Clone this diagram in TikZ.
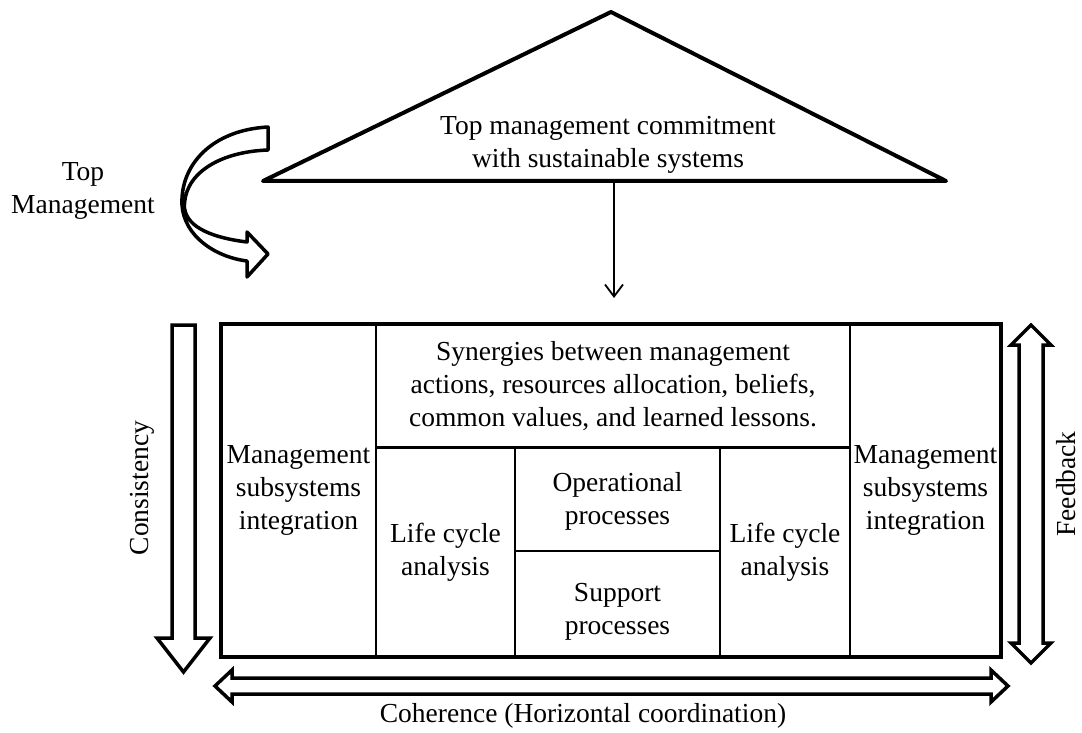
\documentclass[tikz,border=0pt]{standalone}
\usepackage{fontspec}
\setmainfont{Liberation Serif}
\usetikzlibrary{arrows.meta}
\begin{document}
\begin{tikzpicture}[x=1pt,y=-1pt,
  txt/.style={font=\fontsize{27.5}{33}\selectfont, align=center, inner sep=0pt},
  cell/.style={txt, draw, line width=2.5pt},
  hollow/.style={draw, line width=3.5pt, line join=miter, fill=white},
  thin/.style={line width=1.8pt, -{Straight Barb[length=12pt,width=18pt]}}]
\useasboundingbox (0,0) rectangle (1082,733);

% roof: top management commitment
\coordinate (apex) at (611,12);
\coordinate (roofR) at (946,181);
\coordinate (roofL) at (263,181);
\draw[line width=4pt, line join=round] (apex) -- (roofR) -- (roofL) -- cycle;
\node[txt] (roof) at (608,145) {Top management commitment\\with sustainable systems};

% curved "Top Management" arrow
\node[txt] (topm) at (83,191) {Top\\Management};
\draw[hollow, line join=round]
  (268,127) .. controls (212,130) and (180,165) .. (182,205)
  .. controls (184,236) and (215,257) .. (247,261)
  -- (247,277) -- (268,254) -- (247,232) -- (247,242)
  .. controls (214,238) and (187,228) .. (184.5,208)
  .. controls (183,176) and (216,152) .. (268,150) -- cycle;

% cells of the house body
\node[cell, minimum width=155pt, minimum height=333pt] (mgl) at (298.5,490.5)
  {Management\\subsystems\\integration};
\node[cell, minimum width=474pt, minimum height=123pt] (syn) at (613,386.5)
  {Synergies between management\\actions, resources allocation, beliefs,\\common values, and learned lessons.};
\node[cell, minimum width=139pt, minimum height=210pt] (lcl) at (445.5,552)
  {Life cycle\\analysis};
\node[cell, minimum width=205pt, minimum height=104pt] (ops) at (617.5,499) {};
\node[txt] (opst) at (617.5,501) {Operational\\processes};
\node[cell, minimum width=205pt, minimum height=106pt] (sup) at (617.5,604) {};
\node[txt] (supt) at (617.5,612) {Support\\processes};
\node[cell, minimum width=130pt, minimum height=210pt] (lcr) at (785,552)
  {Life cycle\\analysis};
\node[cell, minimum width=151pt, minimum height=333pt] (mgr) at (925.5,490.5)
  {Management\\subsystems\\integration};
\node[draw, line width=4pt, minimum width=780pt, minimum height=333pt, inner sep=0pt]
  (frame) at (611,490.5) {};

% commitment flows down into the body
\coordinate (flowtop) at (614,181);
\coordinate (flowend) at (614,298);
\draw[thin] (flowtop) -- (flowend);

% consistency (downward hollow arrow)
\draw[hollow] (172,325) -- (195,325) -- (195,638) -- (210,638) -- (183.5,672)
  -- (157,638) -- (172,638) -- cycle;
\node[txt, rotate=90] (cons) at (142,488) {Consistency};

% feedback (vertical double hollow arrow)
\draw[hollow] (1031,325) -- (1051,345) -- (1043,345) -- (1043,643) -- (1051,643)
  -- (1031,663) -- (1011,643) -- (1019,643) -- (1019,345) -- (1011,345) -- cycle;
\node[txt, rotate=90] (feed) at (1066,484) {Feedback};

% coherence (horizontal double hollow arrow)
\draw[hollow] (215,686) -- (232,670) -- (232,678) -- (991,678) -- (991,670)
  -- (1008,686) -- (991,702) -- (991,694) -- (232,694) -- (232,702) -- cycle;
\node[txt] (coh) at (583,716) {Coherence (Horizontal coordination)};
\end{tikzpicture}
\end{document}
